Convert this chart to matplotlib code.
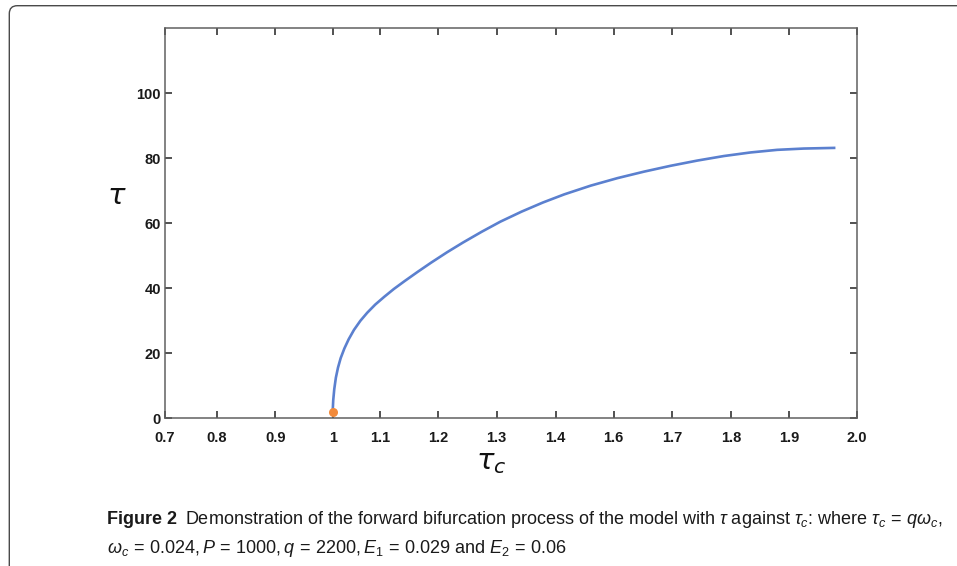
import matplotlib
matplotlib.use("Agg")
import matplotlib.pyplot as plt
from matplotlib.patches import FancyBboxPatch

# Bifurcation branch: tau against tau_c
tau_c = [1.015, 1.016, 1.018, 1.021, 1.025, 1.030, 1.037, 1.045, 1.055, 1.067,
         1.080, 1.095, 1.112, 1.130, 1.150, 1.175, 1.200, 1.230, 1.260, 1.295,
         1.330, 1.370, 1.410, 1.450, 1.500, 1.550, 1.600, 1.650, 1.700, 1.750,
         1.800, 1.850, 1.900, 1.957]
tau = [2.0, 5.5, 9.0, 12.5, 15.6, 18.5, 21.5, 24.3, 27.2, 30.0,
       32.5, 35.0, 37.4, 39.8, 42.2, 45.1, 47.9, 51.1, 54.1, 57.4,
       60.5, 63.6, 66.4, 68.9, 71.6, 73.9, 75.9, 77.7, 79.3, 80.7,
       81.8, 82.6, 83.0, 83.2]

# Onset point of the branch
onset_x = [1.015]
onset_y = [2.0]

# Axis ticks
x_tick_pos = [0.7, 0.797, 0.907, 1.015, 1.104, 1.213, 1.323, 1.434,
              1.543, 1.653, 1.763, 1.872, 2.0]
x_tick_labels = ["0.7", "0.8", "0.9", "1", "1.1", "1.2", "1.3", "1.4",
                 "1.6", "1.7", "1.8", "1.9", "2.0"]
y_tick_pos = [0, 20, 40, 60, 80, 100]
y_tick_labels = ["0", "20", "40", "60", "80", "100"]

W, H = 957, 566
fig = plt.figure(figsize=(W / 100, H / 100), dpi=100)
fig.patch.set_facecolor("white")


def fx(px):
    return px / W


def fy(py):
    return 1 - py / H


ax = fig.add_axes([fx(165), fy(418.3), fx(857) - fx(165), fy(28.3) - fy(418.3)])
ax.plot(tau_c, tau, color="#5b80cf", lw=1.9, solid_joinstyle="round", zorder=2)
ax.plot(onset_x, onset_y, "o", color="#f28a3a", ms=6.5, mec="none", zorder=3,
        clip_on=False)

ax.set_xlim(0.7, 2.0)
ax.set_ylim(0, 120)
ax.set_xticks(x_tick_pos)
ax.set_xticklabels(x_tick_labels)
ax.set_yticks(y_tick_pos)
ax.set_yticklabels(y_tick_labels)

for s in ax.spines.values():
    s.set_color("#606060")
    s.set_linewidth(1.1)

ax.tick_params(axis="both", which="major", direction="in", length=5,
               width=1.2, color="#333333", top=True, right=True,
               labelsize=10.5, labelcolor="#1a1a1a")
ax.tick_params(axis="x", pad=9)
ax.tick_params(axis="y", pad=3)
for lab in ax.get_xticklabels() + ax.get_yticklabels():
    lab.set_fontweight("bold")
    lab.set_fontfamily("Liberation Sans")

fig.text(fx(117), fy(196), r"$\tau$", fontsize=21, ha="center", va="center",
         math_fontfamily="dejavusans", color="#111111")
fig.text(fx(491), fy(462), r"$\tau_c$", fontsize=21, ha="center", va="center",
         math_fontfamily="dejavusans", color="#111111")

# Rounded frame around the figure panel
frame = FancyBboxPatch((0.093, -0.5), 20, (H - 5.7) / 100 + 0.5,
                       boxstyle="round,pad=0,rounding_size=0.08",
                       transform=fig.dpi_scale_trans, fill=False,
                       ec="#4a4a4a", lw=1.0, clip_on=False)
fig.add_artist(frame)

# Caption
cap_font = ["Liberation Sans", "DejaVu Sans"]
plt.rcParams["mathtext.fontset"] = "custom"
plt.rcParams["mathtext.rm"] = "Liberation Sans"
plt.rcParams["mathtext.it"] = "Liberation Sans:italic"
plt.rcParams["mathtext.bf"] = "Liberation Sans:bold"

x0, x_end = 107, 942
line1 = (r"Demonstration of the forward bifurcation process of the model with "
         r"$\tau$ against $\tau_c$: where $\tau_c\,=\,q\omega_c$,")
line2 = (r"$\omega_c\,=\,0.024, P\,=\,1000, q\,=\,2200, E_1\,=\,0.029$ and "
         r"$E_2\,=\,0.06$")


def place_caption(size):
    head = fig.text(fx(x0), fy(524), "Figure 2", fontsize=size,
                    fontweight="bold", family=cap_font, va="baseline",
                    color="#1a1a1a")
    r = fig.canvas.get_renderer()
    bb = head.get_window_extent(r)
    body = fig.text(bb.x1 / W + fx(8), fy(524), line1, fontsize=size,
                    family=cap_font, va="baseline", color="#1a1a1a",
                    math_fontfamily="custom")
    tail = fig.text(fx(x0), fy(553), line2, fontsize=size, family=cap_font,
                    va="baseline", color="#1a1a1a", math_fontfamily="custom")
    return head, body, tail


fig.canvas.draw()
size = 11.0
parts = place_caption(size)
right = parts[1].get_window_extent(fig.canvas.get_renderer()).x1
for p in parts:
    p.remove()
size = size * (x_end - x0) / (right - x0)
parts = place_caption(size)

fig.savefig("out.png", dpi=100, facecolor="white")
